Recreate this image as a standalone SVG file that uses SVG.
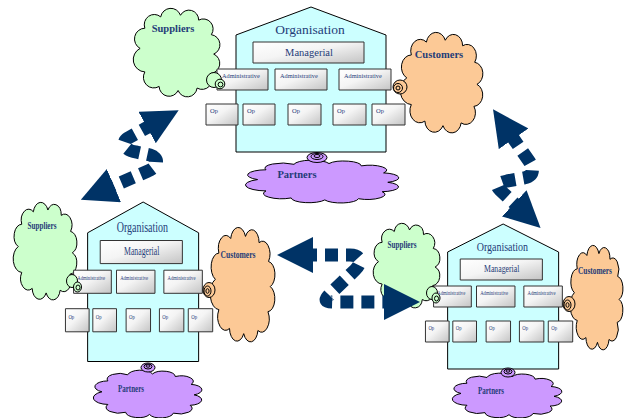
<svg xmlns="http://www.w3.org/2000/svg" xmlns:xlink="http://www.w3.org/1999/xlink" width="624" height="418" viewBox="0 0 624 418">
<style>
.house{fill:#ccffff;stroke:#000;stroke-width:1;vector-effect:non-scaling-stroke}
.box{fill:url(#boxg);stroke:#333;stroke-width:1;vector-effect:non-scaling-stroke}
.t{font-family:"Liberation Serif","Times New Roman",serif;fill:#1f3c78}
.org{font-size:13.5px;text-anchor:middle}
.mgr{font-size:10.5px;text-anchor:middle}
.adm{font-size:6.3px}
.op{font-size:6.5px}
.cl{font-weight:bold;font-size:10.5px;text-anchor:middle}
.sup{fill:#ccffcc;stroke:#000}
.cus{fill:#fcc996;stroke:#000}
.par{fill:#cc99ff;stroke:#000}
.conn{fill:none;stroke:#003366;stroke-width:13;stroke-dasharray:13 8;marker-start:url(#head);marker-end:url(#head)}
</style>
<defs>
<linearGradient id="boxg" x1="0" y1="0" x2="1" y2="1">
<stop offset="0" stop-color="#ffffff"/>
<stop offset="0.45" stop-color="#f4f4f4"/>
<stop offset="1" stop-color="#c4c4c4"/>
</linearGradient>
<path id="cloudP" vector-effect="non-scaling-stroke" d="M13.2,46 A10.6,10.6 0 0 1 18,26 A10.1,10.1 0 0 1 34,14.8 A10.4,10.4 0 0 1 54,13.2 A9.8,9.8 0 0 1 72.4,18 A9.9,9.9 0 0 1 85.2,32.4 A10,10 0 0 1 87.6,51.6 A10,10 0 0 1 84.4,70.8 A10.2,10.2 0 0 1 70.8,85.2 A10,10 0 0 1 51.6,87.6 A10.1,10.1 0 0 1 32.4,83.6 A10.5,10.5 0 0 1 18,69.2 A12.2,12.2 0 0 1 13.2,46 Z"/>
<marker id="head" markerUnits="userSpaceOnUse" viewBox="0 0 36 36" markerWidth="36" markerHeight="36" refX="1" refY="18" orient="auto-start-reverse">
<path d="M0,0 L36,18 L0,36 Z" fill="#003366"/>
</marker>
</defs>
<rect width="624" height="418" fill="#ffffff"/>

<!-- clouds -->
<g id="suppliers-top">
<use href="#cloudP" class="sup" transform="translate(127.07,1.93) scale(0.989,1.011)"/>
<text class="t cl" x="173" y="32">Suppliers</text>
</g>
<g id="customers-top">
<use href="#cloudP" class="cus" transform="translate(394.34,25.11) scale(0.943,1.148)"/>
<text class="t cl" x="439" y="58">Customers</text>
</g>
<g id="partners-top">
<use href="#cloudP" class="par" transform="translate(234.5,157.07) scale(1.75,0.489)"/>
<text class="t cl" x="297" y="178">Partners</text>
</g>
<g id="suppliers-left">
<use href="#cloudP" class="sup" transform="translate(8.64,195.32) scale(0.727,1.114)"/>
<text class="t cl" x="42" y="229" textLength="29" lengthAdjust="spacingAndGlyphs">Suppliers</text>
</g>
<g id="customers-left">
<use href="#cloudP" class="cus" transform="translate(205.57,219.16) scale(0.739,1.307)"/>
<text class="t cl" x="238" y="258" textLength="35" lengthAdjust="spacingAndGlyphs">Customers</text>
</g>
<g id="partners-left">
<use href="#cloudP" class="par" transform="translate(85.57,366.73) scale(1.239,0.545)"/>
<text class="t cl" x="131" y="392" textLength="26" lengthAdjust="spacingAndGlyphs">Partners</text>
</g>
<g id="suppliers-right">
<use href="#cloudP" class="sup" transform="translate(368.43,217.2) scale(0.761,0.966)"/>
<text class="t cl" x="402" y="248" textLength="29" lengthAdjust="spacingAndGlyphs">Suppliers</text>
</g>
<g id="customers-right">
<use href="#cloudP" class="cus" transform="translate(566.4,237.84) scale(0.602,1.193)"/>
<text class="t cl" x="595" y="274" textLength="34" lengthAdjust="spacingAndGlyphs">Customers</text>
</g>
<g id="partners-right">
<use href="#cloudP" class="par" transform="translate(444.5,369.93) scale(1.25,0.511)"/>
<text class="t cl" x="491" y="394" textLength="26" lengthAdjust="spacingAndGlyphs">Partners</text>
</g>

<!-- organisations -->
<g id="org-top">
<polygon class="house" points="236,152 236,35 311,7 386,35 386,152"/>
<text class="t org" x="310" y="34">Organisation</text>
<rect class="box" x="253" y="42" width="111" height="21"/>
<text class="t mgr" x="309" y="55.5">Managerial</text>
<rect class="box" x="217" y="69" width="51" height="21"/>
<rect class="box" x="275" y="69" width="52" height="21"/>
<rect class="box" x="339" y="69" width="52" height="21"/>
<text class="t adm" x="222" y="78">Administrative</text>
<text class="t adm" x="280" y="78">Administrative</text>
<text class="t adm" x="344" y="78">Administrative</text>
<rect class="box" x="206" y="104" width="32" height="21"/>
<rect class="box" x="243" y="104" width="32" height="21"/>
<rect class="box" x="288" y="104" width="33" height="21"/>
<rect class="box" x="333" y="104" width="33" height="21"/>
<rect class="box" x="372" y="104" width="33" height="21"/>
<text class="t op" x="210" y="113">Op</text>
<text class="t op" x="247" y="113">Op</text>
<text class="t op" x="292" y="113">Op</text>
<text class="t op" x="337" y="113">Op</text>
<text class="t op" x="376" y="113">Op</text>
</g>
<g id="org-left" transform="matrix(0.74,0,0,1.1,-87,194.3)">
<polygon class="house" points="236,152 236,35 311,7 386,35 386,152"/>
<text class="t org" x="310" y="34">Organisation</text>
<rect class="box" x="253" y="42" width="111" height="21"/>
<text class="t mgr" x="309" y="55.5">Managerial</text>
<rect class="box" x="217" y="69" width="51" height="21"/>
<rect class="box" x="275" y="69" width="52" height="21"/>
<rect class="box" x="339" y="69" width="52" height="21"/>
<text class="t adm" x="222" y="78">Administrative</text>
<text class="t adm" x="280" y="78">Administrative</text>
<text class="t adm" x="344" y="78">Administrative</text>
<rect class="box" x="206" y="104" width="32" height="21"/>
<rect class="box" x="243" y="104" width="32" height="21"/>
<rect class="box" x="288" y="104" width="33" height="21"/>
<rect class="box" x="333" y="104" width="33" height="21"/>
<rect class="box" x="372" y="104" width="33" height="21"/>
<text class="t op" x="210" y="113">Op</text>
<text class="t op" x="247" y="113">Op</text>
<text class="t op" x="292" y="113">Op</text>
<text class="t op" x="337" y="113">Op</text>
<text class="t op" x="376" y="113">Op</text>
</g>
<g id="org-right" transform="matrix(0.74,0,0,1,273,217)">
<polygon class="house" points="236,152 236,35 311,7 386,35 386,152"/>
<text class="t org" x="310" y="34">Organisation</text>
<rect class="box" x="253" y="42" width="111" height="21"/>
<text class="t mgr" x="309" y="55.5">Managerial</text>
<rect class="box" x="217" y="69" width="51" height="21"/>
<rect class="box" x="275" y="69" width="52" height="21"/>
<rect class="box" x="339" y="69" width="52" height="21"/>
<text class="t adm" x="222" y="78">Administrative</text>
<text class="t adm" x="280" y="78">Administrative</text>
<text class="t adm" x="344" y="78">Administrative</text>
<rect class="box" x="206" y="104" width="32" height="21"/>
<rect class="box" x="243" y="104" width="32" height="21"/>
<rect class="box" x="288" y="104" width="33" height="21"/>
<rect class="box" x="333" y="104" width="33" height="21"/>
<rect class="box" x="372" y="104" width="33" height="21"/>
<text class="t op" x="210" y="113">Op</text>
<text class="t op" x="247" y="113">Op</text>
<text class="t op" x="292" y="113">Op</text>
<text class="t op" x="337" y="113">Op</text>
<text class="t op" x="376" y="113">Op</text>
</g>

<!-- cloud callout tails -->
<g id="tails">
<circle class="sup" cx="214" cy="80" r="7.5"/><circle class="sup" cx="220" cy="84" r="4.8"/><circle class="sup" cx="220.5" cy="84.5" r="2.4"/>
<circle class="cus" cx="400" cy="87" r="7"/><circle class="cus" cx="398" cy="88" r="4.5"/><circle class="cus" cx="398" cy="88" r="2"/>
<ellipse class="par" cx="317" cy="157.5" rx="10" ry="5"/><ellipse class="par" cx="317" cy="156.5" rx="6" ry="3"/><ellipse class="par" cx="317" cy="156" rx="3" ry="1.5"/>
<ellipse class="sup" cx="72" cy="281" rx="5.5" ry="6.5"/><ellipse class="sup" cx="77.5" cy="287" rx="4" ry="5"/><ellipse class="sup" cx="78" cy="287.5" rx="2" ry="2.5"/>
<ellipse class="cus" cx="209" cy="290" rx="6" ry="7.5"/><ellipse class="cus" cx="207.5" cy="291" rx="3.5" ry="5"/><ellipse class="cus" cx="207.5" cy="291" rx="1.6" ry="2.3"/>
<ellipse class="par" cx="148" cy="367.5" rx="7" ry="4.5"/><ellipse class="par" cx="148" cy="366.5" rx="4" ry="2.5"/><ellipse class="par" cx="148" cy="366" rx="2" ry="1.2"/>
<ellipse class="sup" cx="432" cy="293" rx="5.5" ry="6.5"/><ellipse class="sup" cx="436" cy="298" rx="4" ry="5"/><ellipse class="sup" cx="436.5" cy="298.5" rx="2" ry="2.5"/>
<ellipse class="cus" cx="569" cy="304" rx="6" ry="7.5"/><ellipse class="cus" cx="567.5" cy="305" rx="3.5" ry="5"/><ellipse class="cus" cx="567.5" cy="305" rx="1.6" ry="2.3"/>
<ellipse class="par" cx="508" cy="372.5" rx="7" ry="4.5"/><ellipse class="par" cx="508" cy="371.5" rx="4" ry="2.5"/><ellipse class="par" cx="508" cy="371" rx="2" ry="1.2"/>
</g>

<!-- connectors -->
<g id="connectors">
<path class="conn" stroke-dashoffset="6" d="M148,127 L128,138 C120,143 126,151 136,152 L150,155 C160,158 158,167 148,171 L113,186"/>
<path class="conn" stroke-dashoffset="8" d="M312,255 L350,255 C362,255 362,263 355,270 L330,294 C323,301 326,302 334,302 L385,302"/>
<path class="conn" stroke-dashoffset="4" d="M513,138 L529,161 C535,170 533,176 524,178 L507,181 Q493,184 500,190 L515,204"/>
</g>
</svg>
